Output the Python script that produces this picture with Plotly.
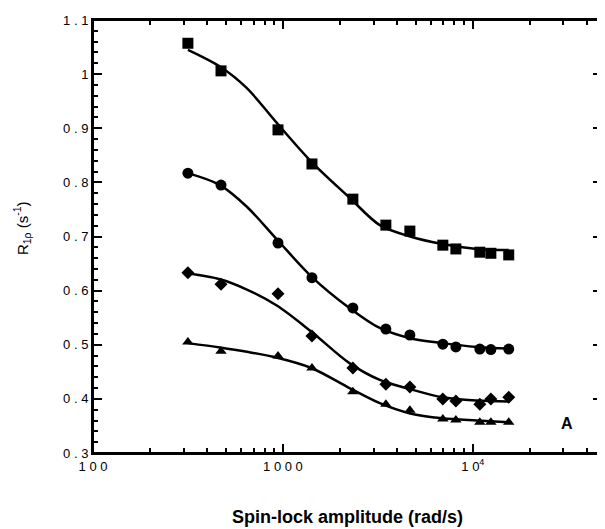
import plotly.graph_objects as go

# spin-lock amplitudes (rad/s)
omega = [316, 472, 942, 1422, 2335, 3483, 4660, 6950, 8140, 10880, 12440, 15450]

# measured R1rho (s^-1)
r_square = [1.057, 1.006, 0.897, 0.834, 0.769, 0.721, 0.710, 0.684, 0.677, 0.671, 0.669, 0.666]
r_circle = [0.817, 0.795, 0.688, 0.624, 0.568, 0.529, 0.518, 0.501, 0.496, 0.492, 0.491, 0.492]
r_diamond = [0.633, 0.612, 0.594, 0.516, 0.457, 0.427, 0.422, 0.400, 0.396, 0.390, 0.400, 0.403]
r_triangle = [0.505, 0.488, 0.479, 0.457, 0.413, 0.390, 0.379, 0.363, 0.361, 0.357, 0.357, 0.357]

# fitted curves
fit_omega = [316, 466, 646, 933, 1413, 2239, 3236, 4677, 6918, 10471, 15450]
fit_square = [1.045, 1.014, 0.974, 0.909, 0.838, 0.772, 0.721, 0.700, 0.686, 0.677, 0.675]
fit_circle = [0.817, 0.795, 0.755, 0.694, 0.626, 0.568, 0.531, 0.512, 0.503, 0.496, 0.493]
fit_diamond = [0.632, 0.621, 0.602, 0.572, 0.524, 0.466, 0.435, 0.418, 0.403, 0.397, 0.395]
fit_triangle = [0.503, 0.495, 0.487, 0.476, 0.457, 0.420, 0.392, 0.373, 0.364, 0.360, 0.357]

y_ticks = [0.3, 0.4, 0.5, 0.6, 0.7, 0.8, 0.9, 1.0, 1.1]
y_labels = ["0 . 3", "0 . 4", "0 . 5", "0 . 6", "0 . 7", "0 . 8", "0 . 9", "1", "1 . 1"]
x_ticks = [100, 1000, 10000]
x_labels = ["1 0 0", "1 0 0 0", "1 0<sup>4</sup>"]

series = [
    (r_square, fit_square, "square", 11),
    (r_circle, fit_circle, "circle", 11),
    (r_diamond, fit_diamond, "diamond", 10),
    (r_triangle, fit_triangle, "triangle-up", 10),
]

FONT = "Liberation Sans, Arial"
X_RANGE = [2, 4.68]
Y_RANGE = [0.3, 1.1]

fig = go.Figure()

for data, fit, sym, size in series:
    fig.add_trace(go.Scatter(
        x=fit_omega, y=fit, mode="lines",
        line=dict(color="black", width=2.5, shape="spline", smoothing=0.9),
        showlegend=False, hoverinfo="skip"))
    fig.add_trace(go.Scatter(
        x=omega, y=data, mode="markers",
        marker=dict(symbol=sym, size=size, color="black"),
        showlegend=False))

minor_x = [m * 10 ** e for e in (2, 3, 4) for m in range(2, 10)]
minor_y = [round(0.3 + 0.02 * i, 2) for i in range(41) if i % 5]

common = dict(ticks="inside", tickwidth=1.5, tickcolor="black", mirror="allticks",
              showgrid=False, zeroline=False, automargin=False)

fig.update_layout(
    # major ticks with labels and the axis lines
    xaxis=dict(type="log", range=X_RANGE, tickmode="array", tickvals=x_ticks, ticktext=x_labels,
               ticklen=9, showline=True, linecolor="black", linewidth=2,
               tickfont=dict(family=FONT, size=13, color="black"), **common),
    yaxis=dict(range=Y_RANGE, tickmode="array", tickvals=y_ticks, ticktext=y_labels,
               ticklen=9, showline=True, linecolor="black", linewidth=2,
               tickfont=dict(family=FONT, size=13, color="black"), **common),
    # minor ticks on overlaid axes
    xaxis2=dict(type="log", range=X_RANGE, overlaying="x", anchor="y2", side="bottom",
                tickmode="array", tickvals=minor_x, showticklabels=False,
                ticklen=5, showline=False, **common),
    yaxis2=dict(range=Y_RANGE, overlaying="y", anchor="x2", side="left",
                tickmode="array", tickvals=minor_y, showticklabels=False,
                ticklen=5, showline=False, **common),
)

# invisible point so the minor-tick axes are drawn
fig.add_trace(go.Scatter(x=[omega[0]], y=[r_square[0]], xaxis="x2", yaxis="y2",
                         mode="markers", marker=dict(opacity=0), showlegend=False,
                         hoverinfo="skip"))

# plot frame
fig.add_shape(type="rect", xref="paper", yref="paper", x0=0, y0=0, x1=1, y1=1,
              line=dict(color="black", width=2), layer="above")

fig.add_annotation(xref="paper", yref="paper", x=0.5, y=-0.148,
                   xanchor="center", yanchor="middle",
                   text="<b>Spin-lock amplitude (rad/s)</b>", showarrow=False,
                   font=dict(family=FONT, size=18, color="black"))
fig.add_annotation(xref="paper", yref="paper", x=-0.139, y=0.52,
                   xanchor="center", yanchor="middle",
                   textangle=-90, text="R<sub>1ρ</sub> (s<sup>-1</sup>)", showarrow=False,
                   font=dict(family=FONT, size=15, color="black"))
fig.add_annotation(xref="paper", yref="paper", x=0.931, y=0.067,
                   xanchor="center", yanchor="middle",
                   text="<b>A</b>", showarrow=False,
                   font=dict(family=FONT, size=16, color="black"))

# the page body adds an 8px offset, so the margins are shifted to compensate
fig.update_layout(
    width=605, height=529,
    margin=dict(l=85, r=11, t=12, b=84),
    plot_bgcolor="white", paper_bgcolor="white",
)

fig.write_html("out.html")
